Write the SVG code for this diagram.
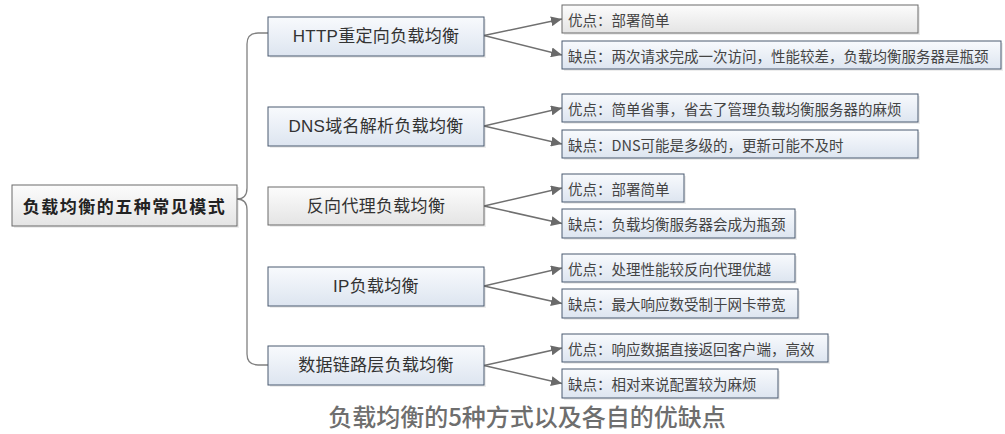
<svg xmlns="http://www.w3.org/2000/svg" width="1005" height="434" viewBox="0 0 1005 434">
<style>
.blue{fill:url(#gb);stroke:#4a5a70;stroke-width:1}
.grey{fill:url(#gg);stroke:#6a6a6a;stroke-width:1}
.sh{fill:#000;opacity:0.07}
.mt{font-family:"Liberation Sans","Noto Sans CJK SC",sans-serif;font-size:17px;fill:#333;text-anchor:middle;dominant-baseline:central;letter-spacing:0.3px}
.lt{font-family:"Noto Sans CJK SC",sans-serif;font-size:14.5px;fill:#444;dominant-baseline:central}
.rt{font-family:"Noto Sans CJK SC",sans-serif;font-size:17px;font-weight:bold;fill:#222;text-anchor:middle;dominant-baseline:central;letter-spacing:1.5px}
.cap{font-family:"Noto Sans CJK SC",sans-serif;font-size:24px;fill:#6e6e6e;text-anchor:middle;font-weight:500}
.ln{fill:none;stroke:#707070;stroke-width:1.5}
.sp{fill:none;stroke:#808080;stroke-width:1.3}
</style>
<defs>
<linearGradient id="gb" x1="0" y1="0" x2="0" y2="1"><stop offset="0" stop-color="#f8fafd"/><stop offset="1" stop-color="#dde5f0"/></linearGradient>
<linearGradient id="gg" x1="0" y1="0" x2="0" y2="1"><stop offset="0" stop-color="#fcfcfc"/><stop offset="1" stop-color="#e4e4e4"/></linearGradient>
<marker id="ar" markerUnits="userSpaceOnUse" markerWidth="12" markerHeight="10" refX="11" refY="5" orient="auto"><path d="M0,0 L11,5 L0,10 Z" fill="#6a6a6a"/></marker>
</defs>
<rect width="1005" height="434" fill="#fff"/>
<g id="connectors">
<path class="sp" d="M268,33 H258 Q247,33 247,44 V188 Q247,199 237,199 M237,199 Q247,199 247,210 V354 Q247,365 258,365 H268"/>
<line class="ln" x1="484" y1="35.5" x2="562" y2="19" marker-end="url(#ar)"/>
<line class="ln" x1="484" y1="35.5" x2="562" y2="55" marker-end="url(#ar)"/>
<line class="ln" x1="484" y1="126" x2="562" y2="108" marker-end="url(#ar)"/>
<line class="ln" x1="484" y1="126" x2="562" y2="144" marker-end="url(#ar)"/>
<line class="ln" x1="484" y1="206" x2="562" y2="188" marker-end="url(#ar)"/>
<line class="ln" x1="484" y1="206" x2="562" y2="223.5" marker-end="url(#ar)"/>
<line class="ln" x1="484" y1="286" x2="562" y2="268" marker-end="url(#ar)"/>
<line class="ln" x1="484" y1="286" x2="562" y2="303.5" marker-end="url(#ar)"/>
<line class="ln" x1="484" y1="365.5" x2="562" y2="348" marker-end="url(#ar)"/>
<line class="ln" x1="484" y1="365.5" x2="562" y2="383.5" marker-end="url(#ar)"/>
</g>
<g id="root"><rect class="sh" x="14" y="187" width="225" height="41"/><rect class="grey" x="12" y="185" width="225" height="41"/><text class="rt" x="124.5" y="205.5">负载均衡的五种常见模式</text></g>
<g id="n-http"><rect class="sh" x="270" y="19" width="216" height="39"/><rect class="blue" x="268" y="17" width="216" height="39"/><text class="mt" x="376" y="36.5">HTTP重定向负载均衡</text></g>
<g id="n-dns"><rect class="sh" x="270" y="109" width="216" height="39"/><rect class="blue" x="268" y="107" width="216" height="39"/><text class="mt" x="376" y="126.5">DNS域名解析负载均衡</text></g>
<g id="n-proxy"><rect class="sh" x="270" y="189" width="216" height="38"/><rect class="grey" x="268" y="187" width="216" height="38"/><text class="mt" x="376" y="206">反向代理负载均衡</text></g>
<g id="n-ip"><rect class="sh" x="270" y="269" width="216" height="39"/><rect class="blue" x="268" y="267" width="216" height="39"/><text class="mt" x="376" y="286.5">IP负载均衡</text></g>
<g id="n-dl"><rect class="sh" x="270" y="348" width="216" height="39"/><rect class="blue" x="268" y="346" width="216" height="39"/><text class="mt" x="376" y="365.5">数据链路层负载均衡</text></g>
<g id="l-http-pro"><rect class="sh" x="564" y="7" width="356" height="28"/><rect class="grey" x="562" y="5" width="356" height="28"/><text class="lt" x="568" y="19">优点：部署简单</text></g>
<g id="l-http-con"><rect class="sh" x="564" y="43" width="439" height="28"/><rect class="blue" x="562" y="41" width="439" height="28"/><text class="lt" x="568" y="55">缺点：两次请求完成一次访问，性能较差，负载均衡服务器是瓶颈</text></g>
<g id="l-dns-pro"><rect class="sh" x="564" y="96" width="356" height="28"/><rect class="blue" x="562" y="94" width="356" height="28"/><text class="lt" x="568" y="108">优点：简单省事，省去了管理负载均衡服务器的麻烦</text></g>
<g id="l-dns-con"><rect class="sh" x="564" y="132" width="356" height="28"/><rect class="blue" x="562" y="130" width="356" height="28"/><text class="lt" x="568" y="144">缺点：DNS可能是多级的，更新可能不及时</text></g>
<g id="l-proxy-pro"><rect class="sh" x="564" y="176" width="122" height="28"/><rect class="blue" x="562" y="174" width="122" height="28"/><text class="lt" x="568" y="188">优点：部署简单</text></g>
<g id="l-proxy-con"><rect class="sh" x="564" y="211" width="233" height="29"/><rect class="blue" x="562" y="209" width="233" height="29"/><text class="lt" x="568" y="223.5">缺点：负载均衡服务器会成为瓶颈</text></g>
<g id="l-ip-pro"><rect class="sh" x="564" y="256" width="233" height="28"/><rect class="blue" x="562" y="254" width="233" height="28"/><text class="lt" x="568" y="268">优点：处理性能较反向代理优越</text></g>
<g id="l-ip-con"><rect class="sh" x="564" y="291" width="236" height="29"/><rect class="blue" x="562" y="289" width="236" height="29"/><text class="lt" x="568" y="303.5">缺点：最大响应数受制于网卡带宽</text></g>
<g id="l-dl-pro"><rect class="sh" x="564" y="336" width="266" height="28"/><rect class="blue" x="562" y="334" width="266" height="28"/><text class="lt" x="568" y="348">优点：响应数据直接返回客户端，高效</text></g>
<g id="l-dl-con"><rect class="sh" x="564" y="371" width="216" height="29"/><rect class="blue" x="562" y="369" width="216" height="29"/><text class="lt" x="568" y="383.5">缺点：相对来说配置较为麻烦</text></g>
<text class="cap" x="527" y="426">负载均衡的5种方式以及各自的优缺点</text>
</svg>
